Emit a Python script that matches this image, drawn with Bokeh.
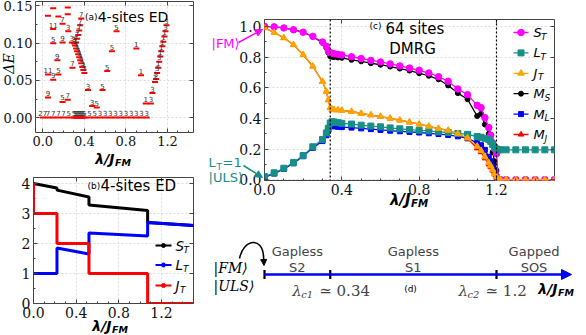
import math
from bokeh.plotting import figure
from bokeh.models import (Range1d, Label, Span, Arrow, NormalHead, LinearAxis,
                          FixedTicker, NumeralTickFormatter, ColumnDataSource)
from bokeh.core.properties import value
from bokeh.embed import file_html
from bokeh.resources import INLINE

SANS = "DejaVu Sans"
SERIF = "DejaVu Serif"

# ---------------- data: (a) 4-site ED gaps, with degeneracies ----------------
a_lam = [0.00, 0.05, 0.10, 0.15, 0.20, 0.25, 0.30, 0.31, 0.32, 0.33, 0.34, 0.35, 0.36, 0.37,
         0.38, 0.39, 0.40, 0.45, 0.50, 0.55, 0.60, 0.65, 0.70, 0.75, 0.80, 0.85, 0.90, 0.95, 1.00,
         0.05, 0.10, 0.15, 0.24, 0.24, 0.10, 0.19, 0.245, 0.10, 0.19,
         0.14, 0.285, 0.05, 0.10, 0.15, 0.62, 0.71, 0.665, 0.90, 0.945,
         0.435, 0.575, 0.05, 0.19, 0.24, 0.475, 0.52, 0.99, 1.04, 1.055,
         1.08, 1.09, 1.10, 1.11, 1.12, 1.13, 1.14, 1.15, 1.16, 1.17, 1.18, 1.19,
         0.28, 0.30, 0.31, 0.32, 0.33, 0.34, 0.35, 0.36, 0.37, 0.38, 0.39, 0.40,
         0.32, 0.33, 0.34, 0.35, 0.36, 0.37]
a_gap = [0.0] * 29 + [
         0.137, 0.147, 0.136, 0.148, 0.139, 0.119, 0.126, 0.116, 0.100, 0.101,
         0.077, 0.067, 0.058, 0.051, 0.058, 0.0625, 0.116, 0.089, 0.093, 0.057,
         0.037, 0.037, 0.027, 0.021, 0.024, 0.0155, 0.0135, 0.019, 0.019, 0.033,
         0.048, 0.052, 0.060, 0.067, 0.075, 0.082, 0.089, 0.096, 0.102, 0.109, 0.116, 0.124,
         0.101, 0.100, 0.097, 0.093, 0.089, 0.085, 0.081, 0.077, 0.073, 0.068, 0.064, 0.060,
         0.101, 0.106, 0.111, 0.117, 0.124, 0.133]
a_deg = ["27", "7", "7", "7", "7"] + ["5"] * 14 + ["3"] * 10 + [
         "", "", "", "", "", "11", "7", "3", "5", "9",
         "9", "7", "11", "9", "5", "5", "5", "5", "1", "1",
         "3", "5", "9", "5", "7", "3", "5", "1", "3", "3",
         "3", "3", "3", "1", "3", "1", "1", "1", "1", "1", "3", "3",
         "3", "3", "3", "3", "3", "3", "3", "3", "3", "3", "3", "3",
         "7", "7", "7", "7", "7", "7"]

# ---------------- data: (b) 4-site ED quantum numbers ----------------
b_lam = [0.0, 0.22, 0.22, 0.52, 0.52, 1.07, 1.07, 1.5]
b_ST = [4.0, 3.85, 3.78, 3.55, 3.28, 3.10, 2.70, 2.60]
b_LT = [1.0, 1.00, 1.85, 1.65, 2.35, 2.25, 2.70, 2.60]
b_lam_J = [0.0, 0.0, 0.22, 0.22, 0.52, 0.52, 1.07, 1.07, 1.5]
b_JT = [4, 3, 3, 2, 2, 1, 1, 0, 0]

# ---------------- data: (c) 64-site DMRG ----------------
c_lam = [0.00, 0.05, 0.10, 0.15, 0.20, 0.25, 0.30,
         0.32, 0.33, 0.34, 0.35, 0.36, 0.38, 0.40,
         0.45, 0.50, 0.55, 0.60, 0.65, 0.70, 0.75, 0.80, 0.85, 0.90, 0.95, 1.00, 1.05,
         1.10, 1.12, 1.14, 1.16, 1.17, 1.18, 1.19, 1.20,
         1.21, 1.22, 1.25, 1.30, 1.35, 1.40, 1.45, 1.50]
tail0 = [0.0] * 8
c_ST = [1.000, 0.997, 0.990, 0.978, 0.962, 0.935, 0.898,
        0.870, 0.840, 0.828, 0.825, 0.822, 0.818, 0.814,
        0.802, 0.790, 0.778, 0.768, 0.755, 0.742, 0.728, 0.714, 0.696, 0.672, 0.642, 0.592, 0.555,
        0.485, 0.470, 0.405, 0.340, 0.290, 0.240, 0.200, 0.170] + tail0
c_MS = [1.000, 0.997, 0.990, 0.978, 0.962, 0.933, 0.893,
        0.862, 0.830, 0.805, 0.802, 0.800, 0.797, 0.795,
        0.782, 0.772, 0.760, 0.750, 0.738, 0.725, 0.712, 0.695, 0.678, 0.655, 0.615, 0.565, 0.525,
        0.415, 0.430, 0.360, 0.300, 0.250, 0.180, 0.120, 0.060] + tail0
c_JT = [0.990, 0.960, 0.925, 0.880, 0.815, 0.740, 0.640,
        0.575, 0.520, 0.470, 0.458, 0.455, 0.455, 0.452,
        0.445, 0.432, 0.422, 0.412, 0.400, 0.388, 0.375, 0.362, 0.348, 0.334, 0.322, 0.300, 0.272,
        0.218, 0.190, 0.150, 0.110, 0.090, 0.065, 0.040, 0.020] + tail0
c_MJ = [0.990, 0.960, 0.925, 0.880, 0.815, 0.740, 0.640,
        0.575, 0.520, 0.470, 0.458, 0.455, 0.455, 0.452,
        0.445, 0.432, 0.422, 0.412, 0.400, 0.388, 0.375, 0.362, 0.348, 0.334, 0.322, 0.298, 0.268,
        0.205, 0.180, 0.140, 0.100, 0.082, 0.060, 0.035, 0.015] + tail0
c_LT = [0.020, 0.045, 0.075, 0.112, 0.158, 0.215, 0.262,
        0.305, 0.335, 0.370, 0.378, 0.376, 0.372, 0.368,
        0.363, 0.356, 0.350, 0.345, 0.338, 0.332, 0.327, 0.322, 0.318, 0.312, 0.308, 0.302, 0.296,
        0.282, 0.277, 0.270, 0.262, 0.250, 0.230, 0.210, 0.200] + [0.195] * 8
c_ML = [0.015, 0.040, 0.070, 0.107, 0.153, 0.208, 0.252,
        0.290, 0.320, 0.352, 0.350, 0.348, 0.345, 0.343,
        0.340, 0.335, 0.330, 0.325, 0.320, 0.316, 0.312, 0.308, 0.303, 0.298, 0.292, 0.283, 0.270,
        0.240, 0.225, 0.195, 0.150, 0.120, 0.085, 0.050, 0.020] + tail0

# ---------------- data: (d) phase diagram ----------------
lam_c1 = 0.34
lam_c2 = 1.2
phase_top = ["Gapless", "Gapless", "Gapped"]
phase_bot = ["S2", "S1", "SOS"]

# ---------------- colours ----------------
MAG, TEAL, ORA, BLU, RED = "#ff00ff", "#178f88", "#ffa500", "#0000ff", "#ff0000"

# frames: pixel box of each plot area (page coords) and its data range
FA = dict(L=33, R=193, T=1, B=132, x=(-0.07, 1.45), y=(-0.02, 0.156))
FB = dict(L=33, R=193, T=177, B=303, x=(0.0, 1.5), y=(0.0, 4.2))
FC = dict(L=264, R=554, T=19, B=180, x=(0.0, 1.5), y=(-0.005, 1.045))
SC = (FC["R"] - FC["L"]) / (FC["x"][1] - FC["x"][0])
FD = dict(L=200, R=586, T=225, B=335, x=(-64 / SC, 322 / SC), y=(0.0, 1.0))
FO = dict(L=0, R=586, T=0, B=335, x=(0.0, 586.0), y=(335.0, 0.0))


def X(fr, px):
    x0, x1 = fr["x"]
    return x0 + (px - fr["L"]) / (fr["R"] - fr["L"]) * (x1 - x0)


def Y(fr, py):
    y0, y1 = fr["y"]
    return y0 + (fr["B"] - py) / (fr["B"] - fr["T"]) * (y1 - y0)


def txt(p, fr, px, py, s, size, font=SANS, style="normal", color="black",
        align="left", base="middle", angle=0.0):
    p.add_layout(Label(x=X(fr, px), y=Y(fr, py), text=s, text_font=font,
                       text_font_size=f"{size}px", text_font_style=style,
                       text_color=color, text_align=align, text_baseline=base,
                       angle=angle))


def place(left, top):
    return {"position": "absolute", "left": f"{left}px", "top": f"{top}px"}


def make_fig(w, h, fr, bl, br, bt, bb, left, top):
    return figure(width=w, height=h, x_range=Range1d(*fr["x"]), y_range=Range1d(*fr["y"]),
                  output_backend="svg", toolbar_location=None,
                  min_border_left=bl, min_border_right=br,
                  min_border_top=bt, min_border_bottom=bb,
                  background_fill_color="white", border_fill_color="white",
                  styles=place(left, top))


def setup(p, xt, xm, yt, ym, xfmt, yfmt, fs):
    p.xaxis.ticker = FixedTicker(ticks=xt, minor_ticks=xm)
    p.yaxis.ticker = FixedTicker(ticks=yt, minor_ticks=ym)
    p.xaxis.formatter = NumeralTickFormatter(format=xfmt)
    p.yaxis.formatter = NumeralTickFormatter(format=yfmt)
    # label-free mirror axes: inward tick marks on the top and right edges
    for loc, t in (("above", xt), ("right", yt)):
        ax = LinearAxis(ticker=FixedTicker(ticks=[], minor_ticks=t),
                        minor_tick_in=4, minor_tick_out=0, major_tick_in=0, major_tick_out=0,
                        axis_line_color=None, minor_tick_line_color="#444444",
                        major_label_standoff=0)
        p.add_layout(ax, loc)
    for ax in p.below + p.left:
        ax.axis_line_color = None
        ax.major_tick_in = 4
        ax.major_tick_out = 0
        ax.minor_tick_in = 2
        ax.minor_tick_out = 0
        ax.major_tick_line_color = "#444444"
        ax.minor_tick_line_color = "#444444"
        ax.major_label_text_font = SERIF
        ax.major_label_text_font_size = fs
        ax.major_label_text_color = "#111111"
        ax.major_label_standoff = 3
    p.xgrid.ticker = FixedTicker(ticks=xt)
    p.ygrid.ticker = FixedTicker(ticks=yt)
    p.grid.grid_line_color = "#dddddd"
    p.grid.grid_line_dash = "2 2"
    p.outline_line_color = "#444444"


XT = [0.0, 0.4, 0.8, 1.2]
XM = [0.1, 0.2, 0.3, 0.5, 0.6, 0.7, 0.9, 1.0, 1.1, 1.3, 1.4]

# ================= panel (a) =================
pa = make_fig(200, 172, FA, 33, 7, 1, 40, 0, 0)
setup(pa, XT, XM, [0.0, 0.05, 0.10, 0.15], [0.025, 0.075, 0.125], "0.0", "0.00", "13px")
src_a = ColumnDataSource(dict(lam=a_lam, gap=a_gap, deg=a_deg))
pa.scatter("lam", "gap", source=src_a, marker="dash", size=6, line_color=RED, line_width=2)
pa.text("lam", "gap", text="deg", source=src_a, text_font=value(SANS), text_font_size="7px",
        text_align="center", text_baseline="bottom", y_offset=-1.5, text_color="#333333")
txt(pa, FA, 83, 16, "(a)", 9)
txt(pa, FA, 96, 16, "4-sites ED", 14)

# ================= panel (b) =================
pb = make_fig(200, 163, FB, 33, 7, 5, 32, 0, 172)
setup(pb, XT, XM, [0, 1, 2, 3, 4], [0.5, 1.5, 2.5, 3.5], "0.0", "0", "14px")
pb.line(b_lam, b_ST, line_color="black", line_width=3)
pb.line(b_lam, b_LT, line_color=BLU, line_width=3)
pb.line(b_lam_J, b_JT, line_color=RED, line_width=3)
for yy, col, main, dx in [(245, "black", "S", 8.0), (264.5, BLU, "L", 7.5), (285, RED, "J", 4.5)]:
    pb.line([X(FB, 155), X(FB, 171)], [Y(FB, yy)] * 2, line_color=col, line_width=2)
    pb.scatter([X(FB, 163)], [Y(FB, yy)], size=4, color=col)
    txt(pb, FB, 175, yy, main, 13.5, style="italic")
    txt(pb, FB, 175 + dx, yy + 4, "T", 9, style="italic")
txt(pb, FB, 87, 185, "(b)", 9)
txt(pb, FB, 100, 185, "4-sites ED", 15)

# ================= panel (c) =================
pc = make_fig(386, 225, FC, 64, 32, 19, 45, 200, 0)
setup(pc, XT, XM, [0.0, 0.2, 0.4, 0.6, 0.8, 1.0], [0.1, 0.3, 0.5, 0.7, 0.9], "0.0", "0.0", "14px")
for loc in (lam_c1, lam_c2):
    pc.add_layout(Span(location=loc, dimension="height", line_color="black",
                       line_dash="2 2", line_width=1.2))
series = [
    (c_MS, "black", "circle", 5),
    (c_ML, BLU, "square", 5),
    (c_MJ, RED, "triangle", 5.5),
    (c_ST, MAG, "circle", 6.5),
    (c_LT, TEAL, "square", 6),
    (c_JT, ORA, "triangle", 6.5),
]
for ys, col, mk, sz in series:
    pc.line(c_lam, ys, line_color=col, line_width=1.3)
    pc.scatter(c_lam, ys, marker=mk, size=sz, fill_color=col, line_color=col)

leg = [("S", "T", MAG, "circle", 6.5, 7.5), ("L", "T", TEAL, "square", 6, 7.0),
       ("J", "T", ORA, "triangle", 6.5, 4.5), ("M", "S", "black", "circle", 5, 11.0),
       ("M", "L", BLU, "square", 5, 11.0), ("M", "J", RED, "triangle", 5.5, 11.0)]
for i, (main, sub, col, mk, sz, dx) in enumerate(leg):
    yy = 32 + i * 20.4
    pc.line([X(FC, 513), X(FC, 528)], [Y(FC, yy)] * 2, line_color=col, line_width=1.3)
    pc.scatter([X(FC, 520.5)], [Y(FC, yy)], marker=mk, size=sz, fill_color=col, line_color=col)
    txt(pc, FC, 533, yy, main, 13, style="italic")
    txt(pc, FC, 533 + dx, yy + 4, sub, 9, style="italic")

txt(pc, FC, 369, 25, "(c)", 9)
txt(pc, FC, 385, 28, "64 sites", 15)
txt(pc, FC, 412, 48, "DMRG", 15, align="center")

# ================= panel (d) =================
pd_ = figure(width=386, height=110, x_range=Range1d(*FD["x"]), y_range=Range1d(*FD["y"]),
             x_axis_type=None, y_axis_type=None, output_backend="svg",
             toolbar_location=None, min_border=0, styles=place(200, 225))
pd_.outline_line_color = None
yl = Y(FD, 274)
lam_end = X(FD, 571)
pd_.add_layout(Arrow(x_start=0.0, y_start=yl, x_end=lam_end, y_end=yl, line_color=BLU,
                     line_width=2.5, end=NormalHead(size=10, fill_color=BLU, line_color=BLU)))
pd_.scatter([0.0, lam_c1, lam_c2], [yl] * 3, marker="dash", angle=math.pi / 2, size=9,
            line_width=2.2, line_color="black")
pd_.bezier(x0=[X(FD, 239)], y0=[Y(FD, 258)], x1=[X(FD, 263)], y1=[Y(FD, 256)],
           cx0=[X(FD, 243)], cy0=[Y(FD, 238)], cx1=[X(FD, 262)], cy1=[Y(FD, 236)],
           line_color="black", line_width=1.5)
pd_.add_layout(Arrow(x_start=X(FD, 263), y_start=Y(FD, 255), x_end=X(FD, 263.5), y_end=Y(FD, 265),
                     line_color="black", line_width=1.5,
                     end=NormalHead(size=6, fill_color="black", line_color="black")))
txt(pd_, FD, 213, 267, "|FM⟩", 14, font=SERIF, style="italic")
txt(pd_, FD, 213, 285, "|ULS⟩", 14, font=SERIF, style="italic")
bounds = [0.0, lam_c1, lam_c2, lam_end]
for k in range(3):
    cx = (bounds[k] + bounds[k + 1]) / 2
    pd_.add_layout(Label(x=cx, y=Y(FD, 251), text=phase_top[k], text_font=SANS,
                         text_font_size="13px", text_align="center", text_baseline="middle"))
    pd_.add_layout(Label(x=cx, y=Y(FD, 267), text=phase_bot[k], text_font=SANS,
                         text_font_size="13px", text_align="center", text_baseline="middle"))
for lc, sub, val in [(lam_c1, "c1", "≃ 0.34"), (lam_c2, "c2", "≃ 1.2")]:
    x0 = lc - 38 / SC
    pd_.add_layout(Label(x=x0, y=Y(FD, 290), text="λ", text_font=SERIF, text_font_size="15px",
                         text_font_style="italic", text_baseline="middle"))
    pd_.add_layout(Label(x=x0 + 9 / SC, y=Y(FD, 294), text=sub, text_font=SERIF,
                         text_font_size="10px", text_font_style="italic", text_baseline="middle"))
    pd_.add_layout(Label(x=x0 + 27 / SC, y=Y(FD, 290), text=val, text_font=SERIF,
                         text_font_size="15px", text_baseline="middle"))
txt(pd_, FD, 410, 288, "(d)", 9, align="center")
txt(pd_, FD, 557, 288, "λ/J", 14, style="bold italic", align="right")
txt(pd_, FD, 557.5, 292, "FM", 9.5, style="bold italic")

# ====== transparent overlay for texts lying outside the plot frames ======
ov = figure(width=586, height=335, x_range=Range1d(*FO["x"]), y_range=Range1d(*FO["y"]),
            x_axis_type=None, y_axis_type=None, output_backend="svg",
            toolbar_location=None, min_border=0, styles=place(0, 0),
            background_fill_color=None, border_fill_color=None)
ov.outline_line_color = None


def xlab(split_px, py, size=14):
    txt(ov, FO, split_px, py, "λ/J", size, style="bold italic", align="right")
    txt(ov, FO, split_px + 0.5, py + 4, "FM", size * 0.68, style="bold italic")


txt(ov, FO, 8, 63, "ΔE", 14, font=SERIF, style="italic", align="center", angle=math.pi / 2)
xlab(114, 158)
xlab(111, 325)
xlab(410, 199, 15)
txt(ov, FO, 211, 43, "|FM⟩", 13, color=MAG)
ov.add_layout(Arrow(x_start=238, y_start=42, x_end=262, y_end=29,
                    line_color=MAG, line_width=1.5,
                    end=NormalHead(size=7, fill_color=MAG, line_color=MAG)))
txt(ov, FO, 208, 162, "L", 13, color=TEAL)
txt(ov, FO, 216, 166, "T", 9, color=TEAL)
txt(ov, FO, 222, 162, "=1", 13, color=TEAL)
txt(ov, FO, 208, 177, "|ULS⟩", 13, color=TEAL)
ov.add_layout(Arrow(x_start=243, y_start=165, x_end=262, y_end=177,
                    line_color=TEAL, line_width=1.5,
                    end=NormalHead(size=7, fill_color=TEAL, line_color=TEAL)))

open("out.html", "w").write(file_html([pa, pb, pc, pd_, ov], INLINE))
